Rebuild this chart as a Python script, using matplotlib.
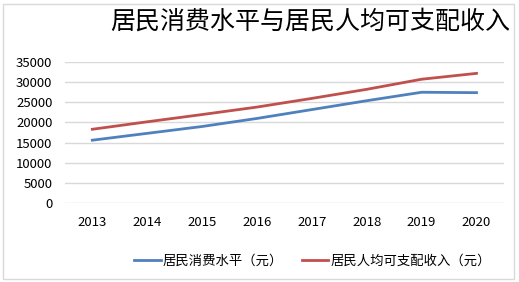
import matplotlib.pyplot as plt
from matplotlib.patches import Rectangle

plt.rcParams['font.family'] = ['Noto Sans CJK SC', 'DejaVu Sans']

years = ['2013', '2014', '2015', '2016', '2017', '2018', '2019', '2020']
consumption = [15600, 17300, 19000, 21000, 23200, 25400, 27500, 27400]
income = [18311, 20167, 21966, 23821, 25974, 28228, 30733, 32189]
yticks = [0, 5000, 10000, 15000, 20000, 25000, 30000, 35000]


def main():
    fig = plt.figure(figsize=(5.19, 2.82), dpi=100)
    ax = fig.add_axes([0.125, 0.280, 0.846, 0.500])

    x = range(len(years))
    ax.plot(x, consumption, color='#4F81BD', lw=2.0, label='居民消费水平（元）')
    ax.plot(x, income, color='#C0504D', lw=2.0, label='居民人均可支配收入（元）')

    ax.set_xlim(-0.5, len(years) - 0.5)
    ax.set_ylim(0, 35000)
    ax.set_yticks(yticks)
    ax.set_xticks(list(x))
    ax.set_xticklabels(years)
    ax.grid(axis='y', color='#d9d9d9', lw=1)
    ax.set_axisbelow(True)
    for s in ax.spines.values():
        s.set_visible(False)
    ax.tick_params(length=0, labelsize=9.5, colors='#000000')
    ax.tick_params(axis='x', pad=9)
    ax.tick_params(axis='y', pad=9)

    fig.text(0.597, 0.922, '居民消费水平与居民人均可支配收入', fontsize=18,
             ha='center', va='center')

    ax.legend(loc='center', bbox_to_anchor=(0.602, 0.075), bbox_transform=fig.transFigure,
              ncol=2, frameon=False, fontsize=9.6, handlelength=2.0,
              handletextpad=0.15, columnspacing=1.4)

    # chart border
    fig.patches.append(Rectangle((0.006, 0.012), 0.985, 0.975, transform=fig.transFigure,
                                 fill=False, edgecolor='#d9d9d9', lw=1))

    fig.savefig('out.png', dpi=100)


if __name__ == "__main__":
    main()
